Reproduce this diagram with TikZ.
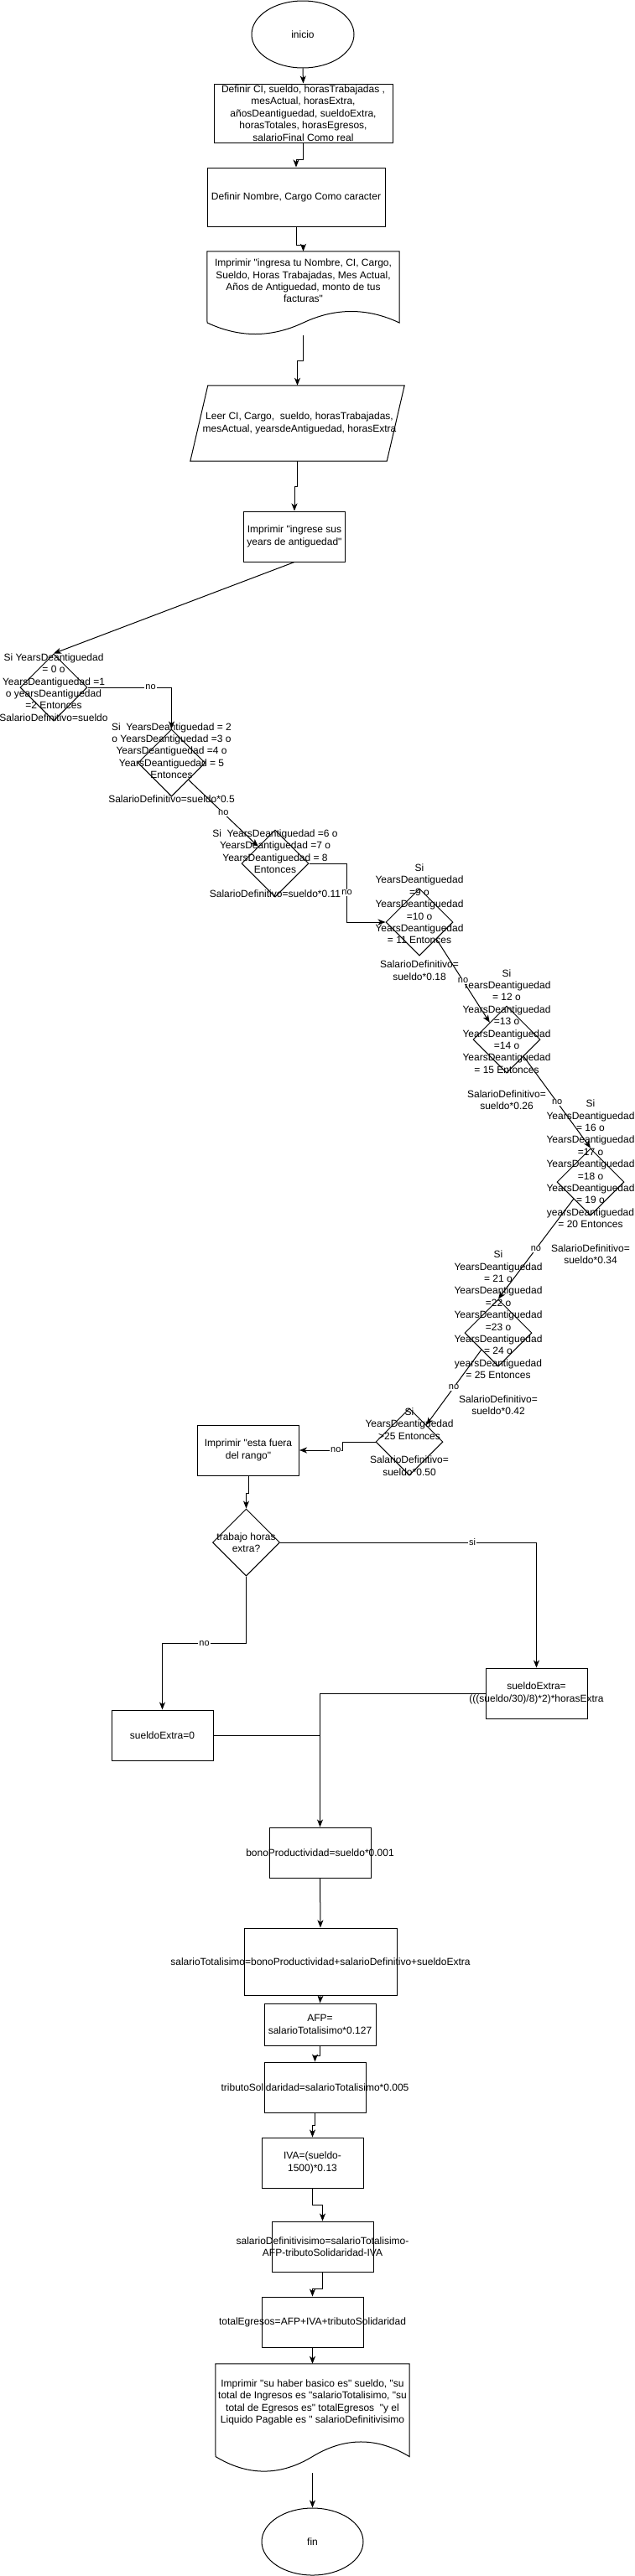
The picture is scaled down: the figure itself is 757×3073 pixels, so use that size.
\documentclass[tikz,border=0pt]{standalone}
\usepackage{fontspec}
\newfontfamily\flowfont{Liberation Sans}
\usetikzlibrary{arrows.meta,calc,shapes.geometric}
\tikzset{
  trm/.style={ellipse,draw=black,line width=1pt,minimum width=122pt,minimum height=80pt,inner sep=0pt},
  prc/.style={rectangle,draw=black,line width=1pt,minimum width=121pt,minimum height=60pt,inner sep=0pt},
  doc/.style={rectangle,minimum width=229pt,minimum height=100pt,inner sep=0pt},
  dec/.style={diamond,draw=black,line width=1pt,minimum width=80pt,minimum height=80pt,inner sep=0pt},
  txt/.style={font=\flowfont\fontsize{12}{14.4}\selectfont,align=center,inner sep=0pt},
  lbl/.style={font=\flowfont\fontsize{11}{13}\selectfont,fill=white,inner sep=1pt},
  lnk/.style={draw=black,line width=1pt,-{Stealth[length=9pt,width=7pt,inset=2.5pt]}},
  lnp/.style={draw=black,line width=1pt},
  % the document and input symbols have no shape of their own: their node
  % only holds the anchors, and the outline is drawn next to it
  wav/.style={draw=black,line width=1pt},
}
\begin{document}
\begin{tikzpicture}[x=1pt,y=-1pt]
\useasboundingbox (0,0) rectangle (757,3073);
% entrada de datos
\node[trm] (ini) at (361,41) {};
\node[txt] (tini) at (ini) {inicio};
\node[prc,minimum width=213pt,minimum height=70pt] (def1) at (361.5,135) {};
\node[txt] (tdef1) at (def1) {Definir CI, sueldo, horasTrabajadas ,\\ mesActual, horasExtra,\\ añosDeantiguedad, sueldoExtra,\\ horasTotales, horasEgresos,\\ salarioFinal Como real};
\node[prc,minimum width=212pt,minimum height=70pt] (def2) at (353,235) {};
\node[txt] (tdef2) at (def2) {Definir Nombre, Cargo Como caracter};
\node[doc] (imp1) at (361.5,350) {};
\draw[wav] (imp1.north west) -- (imp1.north east) -- (476,385)
  .. controls (437.8,367) and (399.7,367) .. (361.5,385)
  .. controls (323.3,403) and (285.2,403) .. (247,385) -- cycle;
\node[txt] (timp1) at (361.5,335) {Imprimir "ingresa tu Nombre, CI, Cargo,\\ Sueldo, Horas Trabajadas, Mes Actual,\\ Años de Antiguedad, monto de tus\\ facturas"};
\node[doc,minimum width=255pt,minimum height=90pt] (lee) at (354.5,505) {};
\draw[wav] ($(lee.north west)+(21,0)$) -- (lee.north east)
  -- ($(lee.south east)+(-21,0)$) -- (lee.south west) -- cycle;
\node[txt] (tlee) at (357,505) {Leer CI, Cargo, \ sueldo, horasTrabajadas,\\ mesActual, yearsdeAntiguedad, horasExtra};
\node[prc] (imp2) at (351,640) {};
\node[txt] (timp2) at (imp2) {Imprimir "ingrese sus\\ years de antiguedad"};

% escala de antiguedad
\node[dec] (c1) at (64,820) {};
\node[txt] (tc1) at (c1) {Si YearsDeantiguedad\\ = 0 o\\ YearsDeantiguedad =1\\ o yearsDeantiguedad\\ =2 Entonces\\ SalarioDefinitivo=sueldo};
\node[dec] (c2) at (204.5,910) {};
\node[txt] (tc2) at (c2) {Si \ YearsDeantiguedad = 2\\ o YearsDeantiguedad =3 o\\ YearsDeantiguedad =4 o\\ YearsDeantiguedad = 5\\ Entonces\\[14.4pt] SalarioDefinitivo=sueldo*0.5};
\node[dec] (c3) at (328,1030) {};
\node[txt] (tc3) at (c3) {Si \ YearsDeantiguedad =6 o\\ YearsDeantiguedad =7 o\\ YearsDeantiguedad = 8\\ Entonces\\[14.4pt] SalarioDefinitivo=sueldo*0.11};
\node[dec] (c4) at (500,1100) {};
\node[txt] (tc4) at (c4) {Si\\ YearsDeantiguedad\\ =9 o\\ YearsDeantiguedad\\ =10 o\\ YearsDeantiguedad\\ = 11 Entonces\\[14.4pt] SalarioDefinitivo=\\ sueldo*0.18};
\node[dec] (c5) at (604,1240) {};
\node[txt] (tc5) at (c5) {Si\\ YearsDeantiguedad\\ = 12 o\\ YearsDeantiguedad\\ =13 o\\ YearsDeantiguedad\\ =14 o\\ YearsDeantiguedad\\ = 15 Entonces\\[14.4pt] SalarioDefinitivo=\\ sueldo*0.26};
\node[dec] (c6) at (704,1410) {};
\node[txt] (tc6) at (c6) {Si\\ YearsDeantiguedad\\ = 16 o\\ YearsDeantiguedad\\ =17 o\\ YearsDeantiguedad\\ =18 o\\ YearsDeantiguedad\\ = 19 o\\ yearsDeantiguedad\\ = 20 Entonces\\[14.4pt] SalarioDefinitivo=\\ sueldo*0.34};
\node[dec] (c7) at (594,1590) {};
\node[txt] (tc7) at (c7) {Si\\ YearsDeantiguedad\\ = 21 o\\ YearsDeantiguedad\\ =22 o\\ YearsDeantiguedad\\ =23 o\\ YearsDeantiguedad\\ = 24 o\\ yearsDeantiguedad\\ = 25 Entonces\\[14.4pt] SalarioDefinitivo=\\ sueldo*0.42};
\node[dec] (c8) at (488,1720) {};
\node[txt] (tc8) at (c8) {Si\\ YearsDeantiguedad\\ >25 Entonces\\[14.4pt] SalarioDefinitivo=\\ sueldo*0.50};
\node[prc] (fue) at (296,1730) {};
\node[txt] (tfue) at (fue) {Imprimir "esta fuera\\ del rango"};

% horas extra y descuentos
\node[dec] (hx) at (293.5,1840) {};
\node[txt] (thx) at (hx) {trabajo horas\\ extra?};
\node[prc] (ex0) at (193.5,2070) {};
\node[txt] (tex0) at (ex0) {sueldoExtra=0};
\node[prc] (ex1) at (639.5,2020) {};
\node[txt] (tex1) at (ex1) {sueldoExtra=\\ (((sueldo/30)/8)*2)*horasExtra};
\node[prc] (bono) at (381.5,2210) {};
\node[txt] (tbono) at (bono) {bonoProductividad=sueldo*0.001};
\node[prc,minimum width=182pt,minimum height=80pt] (tot) at (382,2340) {};
\node[txt] (ttot) at (tot) {salarioTotalisimo=bonoProductividad+salarioDefinitivo+sueldoExtra};
\node[prc,minimum width=133pt,minimum height=50pt] (afp) at (381.5,2415) {};
\node[txt] (tafp) at (afp) {AFP=\\ salarioTotalisimo*0.127};
\node[prc] (tri) at (375.5,2490) {};
\node[txt] (ttri) at (tri) {tributoSolidaridad=salarioTotalisimo*0.005};
\node[prc] (iva) at (372.5,2580) {};
\node[txt] (tiva) at (iva) {IVA=(sueldo-\\ 1500)*0.13};
\node[prc] (liq) at (384.5,2680) {};
\node[txt] (tliq) at (liq) {salarioDefinitivisimo=salarioTotalisimo-\\ AFP-tributoSolidaridad-IVA};
\node[prc] (egr) at (372.5,2770) {};
\node[txt] (tegr) at (egr) {totalEgresos=AFP+IVA+tributoSolidaridad};
\node[doc,minimum width=231pt,minimum height=130pt] (imp3) at (372.5,2885) {};
\draw[wav] (imp3.north west) -- (imp3.north east) -- (488,2930.5)
  .. controls (449.5,2907.1) and (411,2907.1) .. (372.5,2930.5)
  .. controls (334,2953.9) and (295.5,2953.9) .. (257,2930.5) -- cycle;
\node[txt] (timp3) at (372.5,2866) {Imprimir "su haber basico es" sueldo, "su\\ total de Ingresos es "salarioTotalisimo, "su\\ total de Egresos es" totalEgresos \ "y el\\ Liquido Pagable es " salarioDefinitivisimo};
\node[trm,minimum width=121pt] (fin) at (372.5,3032) {};
\node[txt] (tfin) at (fin) {fin};

\draw[lnk] (ini.south) -- (def1.north);
\draw[lnk] (def1.south) -- ++(0,20) -| (def2.north);
\draw[lnk] (def2.south) -- ++(0,22) -| (imp1.north);
\draw[lnk] (imp1.south) -- ++(0,30) -| (lee.north);
\draw[lnk] (lee.south) -- ++(0,30) -| (imp2.north);
\draw[lnk] (imp2.south) -- (c1.north);
\draw[lnk] (c1.east) -| node[lbl,pos=.375] (n1) {no} (c2.north);
\draw[lnk] (c2.south east) -- node[lbl] (n2) {no} (c3.north west);
\draw[lnk] (c3.east) -- ++(45,0) |- node[lbl,pos=.25] (n3) {no} (c4.west);
\draw[lnk] (c4.south east) -- node[lbl] (n4) {no} (c5.north west);
\draw[lnk] (c5.south east) -- node[lbl] (n5) {no} (c6.north);
\draw[lnk] (c6.south west) -- node[lbl] (n6) {no} (c7.north);
\draw[lnk] (c7.south west) -- node[lbl] (n7) {no} (c8.north east);
\draw[lnk] (c8.west) -- ++(-39,0) |- node[lbl,pos=.58] (n8) {no} (fue.east);
\draw[lnk] (fue.south) -- ++(0,21) -| (hx.north);
\draw[lnk] (hx.east) -| node[lbl,pos=.375] (n9) {si} (ex1.north);
\draw[lnk] (hx.south) -- ++(0,80) -| node[lbl,pos=.25] (n10) {no} (ex0.north);
\draw[lnk] (ex1.west) -| (bono.north);
\draw[lnp] (ex0.east) -- (ex0.east -| bono.north);
\draw[lnk] (bono.south) -- (tot.north);
\draw[lnk] (tot.south) -- (afp.north);
\draw[lnk] (afp.south) -- ++(0,12) -| (tri.north);
\draw[lnk] (tri.south) -- ++(0,15) -| (iva.north);
\draw[lnk] (iva.south) -- ++(0,20) -| (liq.north);
\draw[lnk] (liq.south) -- ++(0,20) -| (egr.north);
\draw[lnk] (egr.south) -- (imp3.north);
\draw[lnk] (imp3.south) -- (fin.north);
\end{tikzpicture}
\end{document}
